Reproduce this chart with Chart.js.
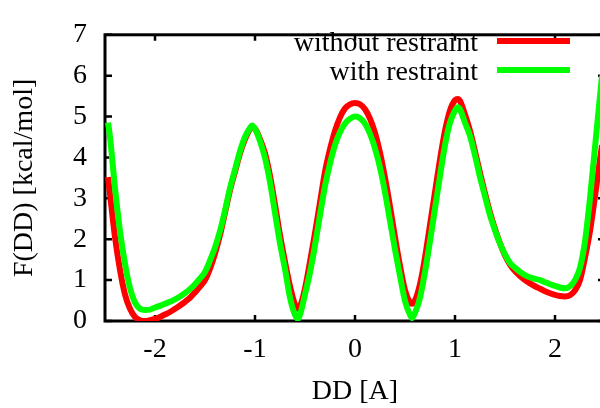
<!DOCTYPE html>
<html>
<head>
<meta charset="utf-8">
<script src="https://cdn.jsdelivr.net/npm/chart.js@4"></script>
<style>
  body { margin: 0; overflow: hidden; background: #fff; }
  #wrap { width: 620px; height: 408px; }
</style>
</head>
<body>
<div id="wrap"><canvas id="fes" width="620" height="408"></canvas></div>
<script>
// DD grid [A]
const ddValues = [
  -2.47, -2.45, -2.40, -2.35, -2.30, -2.25, -2.20, -2.15, -2.10, -2.05,
  -2.00, -1.95, -1.90, -1.85, -1.80, -1.75, -1.70, -1.65, -1.60, -1.55,
  -1.50, -1.45, -1.40, -1.35, -1.30, -1.25, -1.20, -1.15, -1.10, -1.05,
  -1.03, -1.00, -0.95, -0.90, -0.85, -0.80, -0.75, -0.70, -0.65, -0.60,
  -0.57, -0.55, -0.50, -0.45, -0.40, -0.35, -0.30, -0.25, -0.20, -0.15,
  -0.10, -0.05, 0.00, 0.05, 0.10, 0.15, 0.20, 0.25, 0.30, 0.35,
  0.40, 0.45, 0.50, 0.55, 0.57, 0.60, 0.65, 0.70, 0.75, 0.80,
  0.85, 0.90, 0.95, 1.00, 1.03, 1.05, 1.10, 1.15, 1.20, 1.25,
  1.30, 1.35, 1.40, 1.45, 1.50, 1.55, 1.60, 1.65, 1.70, 1.75,
  1.80, 1.85, 1.90, 1.95, 2.00, 2.05, 2.10, 2.15, 2.20, 2.25,
  2.30, 2.35, 2.40, 2.45, 2.47
];

// F(DD) without restraint
const withoutRestraint = [
  3.52, 3.10, 2.05, 1.25, 0.65, 0.30, 0.10, 0.02, 0.00, 0.02,
  0.05, 0.10, 0.16, 0.22, 0.30, 0.38, 0.47, 0.57, 0.70, 0.84,
  1.00, 1.28, 1.65, 2.10, 2.65, 3.20, 3.65, 4.10, 4.45, 4.70,
  4.76, 4.70, 4.45, 4.10, 3.55, 2.85, 2.10, 1.45, 0.85, 0.40,
  0.30, 0.35, 0.80, 1.45, 2.15, 2.90, 3.65, 4.20, 4.65, 4.98,
  5.20, 5.30, 5.33, 5.30, 5.18, 4.95, 4.60, 4.12, 3.50, 2.80,
  2.05, 1.35, 0.75, 0.45, 0.42, 0.50, 0.90, 1.55, 2.35, 3.15,
  3.95, 4.65, 5.15, 5.40, 5.43, 5.38, 5.05, 4.65, 4.15, 3.62,
  3.12, 2.65, 2.25, 1.90, 1.60, 1.38, 1.22, 1.10, 1.00, 0.92,
  0.85, 0.79, 0.73, 0.68, 0.64, 0.61, 0.60, 0.63, 0.75, 1.00,
  1.55, 2.20, 3.05, 3.95, 4.30
];

// F(DD) with restraint
const withRestraint = [
  4.85, 4.50, 3.25, 2.20, 1.40, 0.80, 0.45, 0.30, 0.27, 0.28,
  0.33, 0.37, 0.42, 0.47, 0.53, 0.60, 0.68, 0.78, 0.90, 1.04,
  1.20, 1.48, 1.80, 2.20, 2.70, 3.25, 3.70, 4.15, 4.50, 4.72,
  4.78, 4.70, 4.40, 3.99, 3.40, 2.65, 1.90, 1.27, 0.57, 0.15,
  0.05, 0.15, 0.65, 1.19, 1.85, 2.59, 3.30, 3.85, 4.30, 4.62,
  4.83, 4.95, 5.00, 4.96, 4.83, 4.58, 4.22, 3.75, 3.15, 2.45,
  1.75, 1.10, 0.49, 0.15, 0.07, 0.20, 0.57, 1.20, 1.95, 2.75,
  3.55, 4.30, 4.85, 5.15, 5.23, 5.18, 4.85, 4.53, 4.05, 3.52,
  3.05, 2.59, 2.22, 1.89, 1.63, 1.42, 1.30, 1.20, 1.12, 1.07,
  1.03, 1.00, 0.95, 0.90, 0.86, 0.82, 0.80, 0.85, 1.00, 1.30,
  1.95, 3.00, 4.25, 5.50, 6.00
];

const xTickValues = [-2, -1, 0, 1, 2];
const yTickValues = [0, 1, 2, 3, 4, 5, 6, 7];

const FONT = '"Liberation Serif", "Times New Roman", serif';

// gnuplot style box with inward ticks
const framePlugin = {
  id: 'frame',
  beforeDatasetsDraw(chart) {
    const { ctx, chartArea: a, scales: { x, y } } = chart;
    ctx.save();
    ctx.strokeStyle = '#000';
    ctx.lineWidth = 3;
    ctx.strokeRect(a.left, a.top, a.right - a.left, a.bottom - a.top);
    ctx.lineWidth = 2.5;
    ctx.beginPath();
    xTickValues.forEach(v => {
      const px = x.getPixelForValue(v);
      ctx.moveTo(px, a.bottom); ctx.lineTo(px, a.bottom - 6);
      ctx.moveTo(px, a.top); ctx.lineTo(px, a.top + 6);
    });
    yTickValues.forEach(v => {
      const py = y.getPixelForValue(v);
      ctx.moveTo(a.left, py); ctx.lineTo(a.left + 7, py);
      ctx.moveTo(a.right, py); ctx.lineTo(a.right - 7, py);
    });
    ctx.stroke();
    ctx.restore();
  }
};

// key in the top right, text left of the line sample
const keyPlugin = {
  id: 'key',
  afterDatasetsDraw(chart) {
    const { ctx } = chart;
    ctx.save();
    ctx.font = '28px ' + FONT;
    ctx.textAlign = 'right';
    ctx.textBaseline = 'alphabetic';
    ctx.fillStyle = '#000';
    chart.data.datasets.forEach((ds, i) => {
      const yy = 41 + i * 29;
      ctx.fillText(ds.label, 478, yy + 10);
      ctx.strokeStyle = ds.borderColor;
      ctx.lineWidth = 6;
      ctx.beginPath();
      ctx.moveTo(497, yy);
      ctx.lineTo(570, yy);
      ctx.stroke();
    });
    ctx.restore();
  }
};

const toPoints = vals => ddValues.map((d, i) => ({ x: d, y: vals[i] }));

new Chart(document.getElementById('fes').getContext('2d'), {
  type: 'line',
  data: {
    datasets: [
      {
        label: 'without restraint',
        data: toPoints(withoutRestraint),
        borderColor: '#ff0000',
        borderWidth: 6,
        pointRadius: 0,
        cubicInterpolationMode: 'monotone',
        borderJoinStyle: 'round',
        order: 1
      },
      {
        label: 'with restraint',
        data: toPoints(withRestraint),
        borderColor: '#00ff00',
        borderWidth: 6,
        pointRadius: 0,
        cubicInterpolationMode: 'monotone',
        borderJoinStyle: 'round',
        order: 0
      }
    ]
  },
  options: {
    responsive: false,
    animation: false,
    layout: { padding: { top: 22, right: 15, left: 0, bottom: 0 } },
    plugins: { legend: { display: false }, tooltip: { enabled: false } },
    scales: {
      x: {
        type: 'linear',
        min: -2.5,
        max: 2.5,
        afterBuildTicks: s => { s.ticks = xTickValues.map(v => ({ value: v })); },
        afterFit: s => { s.height = 87; },
        grid: { display: false, drawTicks: false },
        border: { display: false },
        ticks: { padding: 12, color: '#000', font: { family: FONT, size: 28 } },
        title: {
          display: true,
          text: 'DD [A]',
          color: '#000',
          padding: { top: 0, bottom: 0 },
          font: { family: FONT, size: 28 }
        }
      },
      y: {
        min: 0,
        max: 7,
        afterBuildTicks: s => { s.ticks = yTickValues.map(v => ({ value: v })); },
        afterFit: s => { s.width = 105; },
        grid: { display: false, drawTicks: false },
        border: { display: false },
        ticks: { padding: 18, color: '#000', font: { family: FONT, size: 28 } },
        title: {
          display: true,
          text: 'F(DD) [kcal/mol]',
          color: '#000',
          padding: { top: 8, bottom: 0 },
          font: { family: FONT, size: 28 }
        }
      }
    }
  },
  plugins: [framePlugin, keyPlugin]
});
</script>
</body>
</html>
